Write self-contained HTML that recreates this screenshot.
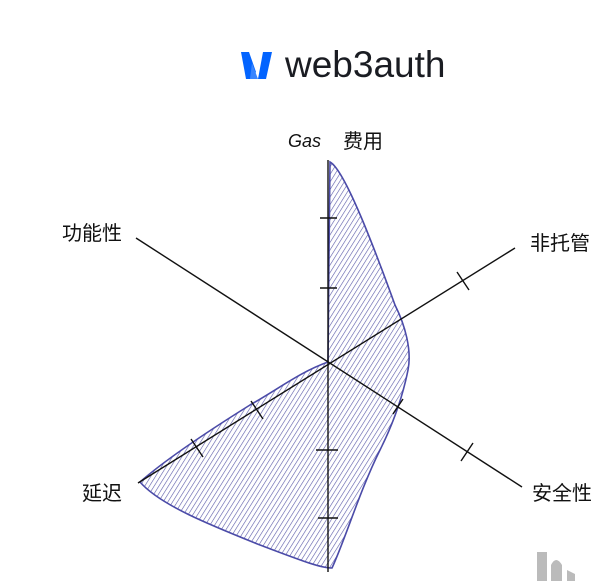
<!DOCTYPE html>
<html><head><meta charset="utf-8"><style>
body{margin:0;background:#fff;width:600px;height:581px;overflow:hidden;font-family:"Liberation Sans","Noto Sans CJK SC",sans-serif}
</style></head><body>
<svg width="600" height="581" viewBox="0 0 600 581" xmlns="http://www.w3.org/2000/svg">
<defs>
<pattern id="h" width="4" height="4" patternUnits="userSpaceOnUse" patternTransform="rotate(32)">
<line x1="0" y1="0" x2="0" y2="4" stroke="#5a5aa8" stroke-width="1.2"/>
</pattern>
</defs>
<g>
<path d="M241 52 L249 52 L256 72 L252 79 L246 79 Z" fill="#0364ff"/>
<path d="M263 52 L272 52 L266 79 L258 79 Z" fill="#0364ff"/>
<path d="M252 63 L258 79 L250 79 Z" fill="#3a86ff"/>
<text x="285" y="77" font-size="37" fill="#1a1c22" font-family="Liberation Sans,sans-serif">web3auth</text>
</g>
<path d="M330 162 C345 170 375 250 395 305 C405 325 412 350 408 370 C403 395 395 420 380 450 C360 490 345 540 332 568 C320 568 300 560 260 545 C210 525 160 505 140 482 C165 460 210 430 250 405 C280 388 300 372 328 362 C328 300 330 220 330 162 Z" fill="url(#h)" stroke="#4b4ba8" stroke-width="1.6"/>
<g stroke="#111" stroke-width="1.4" fill="none">
<line x1="328" y1="160" x2="328" y2="572"/>
<line x1="136" y1="238" x2="522" y2="487"/>
<line x1="138" y1="483" x2="515" y2="248"/>
<line x1="320" y1="218" x2="337" y2="218"/>
<line x1="320" y1="288" x2="337" y2="288"/>
<line x1="316" y1="450" x2="338" y2="450"/>
<line x1="318" y1="518" x2="338" y2="518"/>
<line x1="457" y1="272" x2="469" y2="290"/>
<line x1="461" y1="461" x2="473" y2="443"/>
<line x1="191" y1="439" x2="203" y2="457"/>
<line x1="251" y1="401" x2="263" y2="419"/>
<line x1="393" y1="414" x2="403" y2="399"/>
</g>
<g font-size="20" fill="#111">
<text x="288" y="147" font-size="18" font-style="italic">Gas</text>
<text x="343" y="148">费用</text>
<text x="62" y="240">功能性</text>
<text x="530" y="250">非托管</text>
<text x="82" y="500">延迟</text>
<text x="532" y="500">安全性</text>
</g>
<rect x="537" y="552" width="10" height="29" fill="#bbb"/>
<path d="M551 581 L551 565 Q556 555 562 565 L562 581 Z" fill="#bbb"/>
<path d="M567 570 L575 574 L575 581 L567 581 Z" fill="#bbb"/>
</svg>
</body></html>
